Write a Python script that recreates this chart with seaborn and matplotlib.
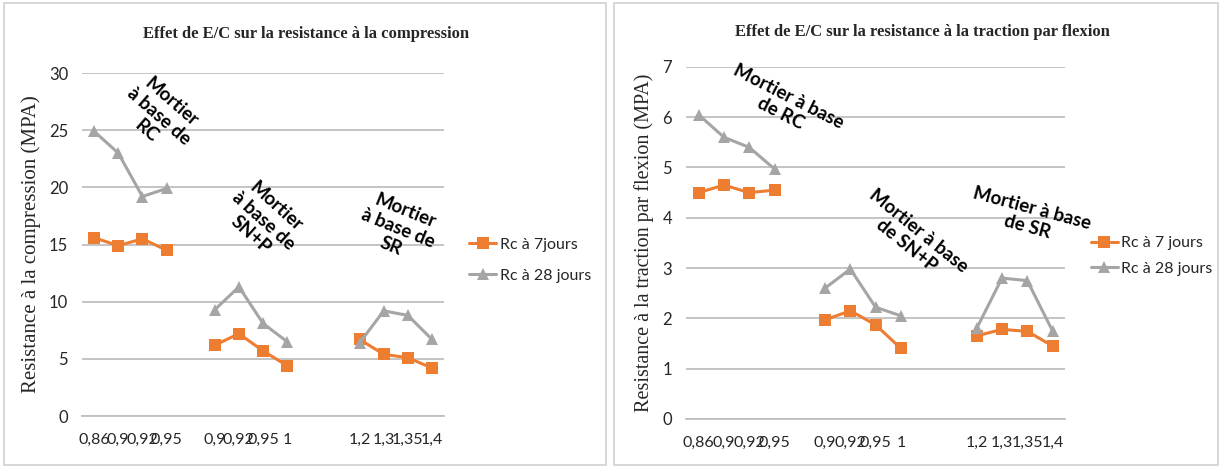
import matplotlib
matplotlib.use('Agg')
import matplotlib.pyplot as plt
from matplotlib.lines import Line2D
from matplotlib.patches import Rectangle
from matplotlib.ticker import FormatStrFormatter
import seaborn as sns
import numpy as np
import pandas as pd

# Category labels on the x axis (blank = gap between groups)
categories = ['0,86', '0,9', '0,92', '0,95', '',
              '0,9', '0,92', '0,95', '1', '', '',
              '1,2', '1,3', '1,35', '1,4']
groups = ['RC'] * 4 + ['SN+P'] * 4 + ['SR'] * 4
positions = [0, 1, 2, 3, 5, 6, 7, 8, 11, 12, 13, 14]

# Compression (MPA)
comp_7j = [15.6, 14.9, 15.5, 14.5, 6.2, 7.2, 5.7, 4.4, 6.7, 5.4, 5.1, 4.2]
comp_28j = [24.9, 23.0, 19.2, 19.9, 9.3, 11.3, 8.1, 6.5, 6.4, 9.2, 8.8, 6.7]

# Traction par flexion (MPA)
flex_7j = [4.5, 4.65, 4.5, 4.55, 1.97, 2.15, 1.87, 1.4, 1.65, 1.78, 1.74, 1.45]
flex_28j = [6.05, 5.6, 5.4, 4.97, 2.6, 2.98, 2.22, 2.05, 1.8, 2.8, 2.75, 1.75]

ORANGE = '#ED7D31'
GRAY = '#A5A5A5'

sns.set_theme(style='white')
plt.rcParams['font.family'] = ['Lato', 'DejaVu Sans']

fig = plt.figure(figsize=(12.19, 4.68), dpi=100)

# Chart frames
fig.patches.append(Rectangle((0.003, 0.006), 0.494, 0.988, transform=fig.transFigure,
                             fill=False, edgecolor='#D0D0D0', lw=1.2))
fig.patches.append(Rectangle((0.504, 0.006), 0.495, 0.988, transform=fig.transFigure,
                             fill=False, edgecolor='#D0D0D0', lw=1.2))


def make_df(v7, v28, lab7, lab28):
    rows = []
    for p, g, a, b in zip(positions, groups, v7, v28):
        rows.append({'pos': p, 'groupe': g, 'serie': lab7, 'val': a})
        rows.append({'pos': p, 'groupe': g, 'serie': lab28, 'val': b})
    return pd.DataFrame(rows)


def draw(ax, df, lab7, lab28, ymax, ylabel, ylsize, notes, leg_x, leg_y, leg_sp):
    sns.lineplot(data=df, x='pos', y='val', hue='serie', style='serie',
                 units='groupe', estimator=None, ax=ax, legend=False,
                 palette={lab7: ORANGE, lab28: GRAY},
                 markers={lab7: 's', lab28: '^'}, dashes=False,
                 linewidth=2.2, markersize=8, markeredgewidth=0)
    ax.set_xlim(-0.5, 14.5)
    ax.set_ylim(0, ymax)
    ax.set_xticks(range(len(categories)))
    ax.set_xticklabels(categories, fontsize=11.5)
    step = 1 if ymax == 7 else 5
    ax.set_yticks(np.arange(0, ymax + 0.01, step))
    ax.yaxis.set_major_formatter(FormatStrFormatter('%d'))
    ax.tick_params(axis='y', labelsize=12, length=0, pad=10)
    ax.tick_params(axis='x', length=0, pad=12)
    ax.grid(axis='y', color='#BFBFBF', lw=1.3)
    ax.set_axisbelow(True)
    for s in ['top', 'right', 'left']:
        ax.spines[s].set_visible(False)
    ax.spines['bottom'].set_color('#BFBFBF')
    ax.spines['bottom'].set_linewidth(1.3)
    ax.set_xlabel('')
    ax.set_ylabel(ylabel, family='Liberation Serif', fontsize=ylsize, labelpad=6)
    # Group annotations, rotated like in the source chart
    for txt, x, y, rot in notes:
        ax.text(x, y, txt, rotation=rot, fontsize=13.5, fontweight='bold',
                ha='center', va='center', rotation_mode='anchor',
                linespacing=1.15, color='black')
    handles = [Line2D([], [], color=ORANGE, marker='s', lw=2.2, markersize=8, markeredgewidth=0),
               Line2D([], [], color=GRAY, marker='^', lw=2.2, markersize=8, markeredgewidth=0)]
    ax.legend(handles, [lab7, lab28], loc='center left', bbox_to_anchor=(leg_x, leg_y),
              frameon=False, fontsize=11.5, handlelength=1.7, handletextpad=0.2,
              labelspacing=leg_sp)


ax1 = fig.add_axes([0.0673, 0.111, 0.297, 0.733])
lab7a, lab28a = 'Rc à 7jours', 'Rc à 28 jours'
draw(ax1, make_df(comp_7j, comp_28j, lab7a, lab28a), lab7a, lab28a, 30,
     'Resistance à la compression (MPA)', 15,
     [('Mortier\nà base de\nRC', 2.7, 26.2, -41),
      ('Mortier\nà base de\nSN+P', 7.0, 17.1, -42),
      ('Mortier\nà base de\nSR', 12.6, 16.4, -22)],
     1.03, 0.455, 1.05)
fig.text(0.251, 0.927, 'Effet de E/C sur la resistance à la compression',
         family='Liberation Serif', fontweight='bold', fontsize=12,
         ha='center', va='center')

ax2 = fig.add_axes([0.5628, 0.105, 0.311, 0.752])
lab7b, lab28b = 'Rc à 7 jours', 'Rc à 28 jours'
draw(ax2, make_df(flex_7j, flex_28j, lab7b, lab28b), lab7b, lab28b, 7,
     'Resistance à la traction par flexion (MPA)', 14.5,
     [('Mortier à base\nde RC', 3.4, 6.24, -27),
      ('Mortier à base\nde SN+P', 8.45, 3.6, -39),
      ('Mortier à base\nde SR', 13.1, 4.0, -15)],
     1.03, 0.463, 0.7)
fig.text(0.757, 0.932, 'Effet de E/C sur la resistance à la traction par flexion',
         family='Liberation Serif', fontweight='bold', fontsize=12,
         ha='center', va='center')

fig.savefig('out.png', dpi=100)
